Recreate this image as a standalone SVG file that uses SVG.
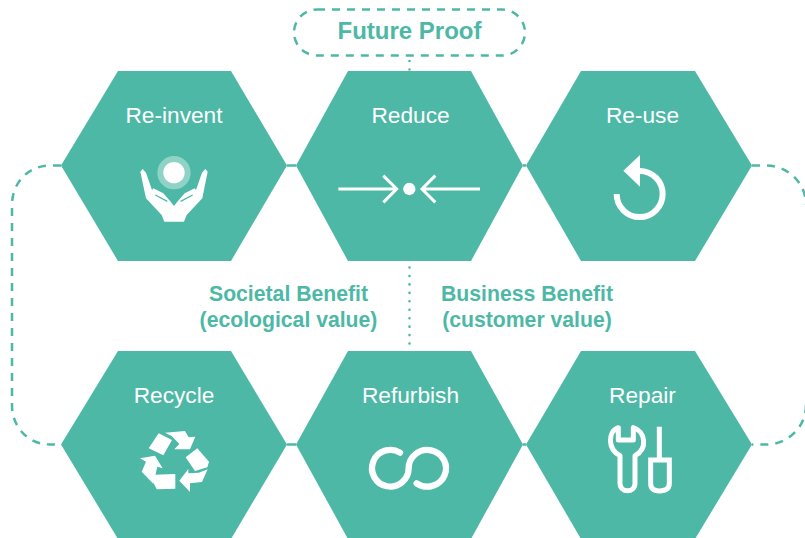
<svg xmlns="http://www.w3.org/2000/svg" width="805" height="538" viewBox="0 0 805 538">
<style>
.hex{fill:#4DB8A6}
.lbl{font-family:"Liberation Sans",Arial,sans-serif;font-size:22.7px;fill:#fff;text-anchor:middle}
.txt{font-family:"Liberation Sans",Arial,sans-serif;font-weight:700;font-size:21.2px;fill:#4DB8A6;text-anchor:middle}
.dash{fill:none;stroke:#4DB8A6;stroke-width:2.5;stroke-dasharray:8 7}
.dot{fill:none;stroke:#4DB8A6;stroke-width:2.6;stroke-linecap:round;stroke-dasharray:0 8.45}
.ico{fill:#fff}
.lin{fill:none;stroke:#fff;stroke-width:15}
</style>
<rect width="805" height="538" fill="#fff"/>
<g id="connectors">
<path class="dash" d="M61 165.500H50C28 165.500 12 183 12 205V405C12 427 28 444.500 50 444.500H61"/>
<path class="dash" d="M752 165.500H766C788 165.500 806 183 806 205M806 405C806 427 788 444.500 766 444.500H752"/>
<path d="M287 165.500H296M523 165.500H526M287 444.500H296M523 444.500H526" stroke="#4DB8A6" stroke-width="2.500" fill="none"/>
<path class="dot" d="M409.500 61V71"/>
<path class="dot" d="M409.500 267.500V351"/>
</g>
<g id="future-proof">
<rect class="dash" x="294" y="9.500" width="231" height="46" rx="23"/>
<text x="409.500" y="39" class="txt" style="font-size:24px">Future Proof</text>
</g>
<g id="re-invent">
<polygon class="hex" points="61,165.500 118,71 231,71 287,165.500 231,261 118,261"/>
<text x="174" y="122.500" class="lbl">Re-invent</text>
<g transform="translate(120 140) scale(.3333)">
<circle cx="162" cy="98" r="41" fill="#fff" stroke="#8FD3C7" stroke-width="18"/>
<path class="ico" d="M68 87L78 98L96 150L100 145L130 160L152 185L162 198L172 185L194 160L224 145L228 150L246 98L256 87L263 95L247 175L200 225L192 245H133L125 225L78 175L61 95Z"/>
<path d="M106 165L142 184M218 165L182 184" stroke="#4DB8A6" stroke-width="4" fill="none"/>
</g>
</g>
<g id="reduce">
<polygon class="hex" points="296,165.500 348,71 471,71 523,165.500 471,261 348,261"/>
<text x="410.500" y="122.500" class="lbl">Reduce</text>
<g transform="translate(330 160) scale(.3333)">
<path d="M25 87H200M160 47L200 87L160 127M450 87H276M316 47L276 87L316 127" fill="none" stroke="#fff" stroke-width="9"/>
<circle class="ico" cx="238" cy="87" r="18.500"/>
</g>
</g>
<g id="re-use">
<polygon class="hex" points="526,165.500 581,71 695,71 752,165.500 695,261 581,261"/>
<text x="642.500" y="122.500" class="lbl">Re-use</text>
<g transform="translate(590 140) scale(.3333)">
<path class="lin" style="stroke-width:18" d="M80 162A69 69 0 1 0 149 93"/>
<polygon class="ico" points="150,45 100,92 150,140"/>
</g>
</g>
<g id="recycle">
<polygon class="hex" points="61,444.500 118,351 231,351 287,444.500 231,539 118,539"/>
<text x="174" y="402.500" class="lbl">Recycle</text>
<g transform="translate(120 420) scale(.3333)">
<polygon class="ico" points="116,40 156,60 130,106 86,85"/>
<polygon class="ico" points="135,38 195,33 206,52 226,50 210,88 163,88 178,72 155,48"/>
<polygon class="ico" points="232,85 267,125 262,142 225,153 197,112"/>
<polygon class="ico" points="263,148 246,186 210,190 210,216 178,182 205,147 205,160 236,158"/>
<polygon class="ico" points="103,164 166,162 166,206 110,208 101,190"/>
<polygon class="ico" points="60,115 105,107 128,145 112,140 100,191 65,155 78,125"/>
</g>
</g>
<g id="refurbish">
<polygon class="hex" points="296,444.500 348,351 471,351 523,444.500 471,539 348,539"/>
<text x="410.500" y="402.500" class="lbl">Refurbish</text>
<g transform="translate(350 430) scale(.3333)">
<path class="lin" style="stroke-width:19" stroke-linecap="round" d="M150 68A55 55 0 1 0 176 115A56 55 0 1 1 200 160"/>
</g>
</g>
<g id="repair">
<polygon class="hex" points="526,444.500 581,351 695,351 752,444.500 695,539 581,539"/>
<text x="642.500" y="402.500" class="lbl">Repair</text>
<g transform="translate(590 415) scale(.3333)">
<path class="lin" stroke-linejoin="round" d="M85 38C55 48 50 100 90 122V205C90 235 135 235 135 205V122C175 100 165 48 130 38V75H85Z"/>
<path class="lin" d="M208 35V135M182 135V205Q182 228 208 228Q238 228 238 205V135Z"/>
</g>
</g>
<g id="labels">
<text x="288.500" y="301" class="txt">Societal Benefit</text>
<text x="288.500" y="327" class="txt">(ecological value)</text>
<text x="527" y="301" class="txt">Business Benefit</text>
<text x="527" y="327" class="txt">(customer value)</text>
</g>
</svg>
